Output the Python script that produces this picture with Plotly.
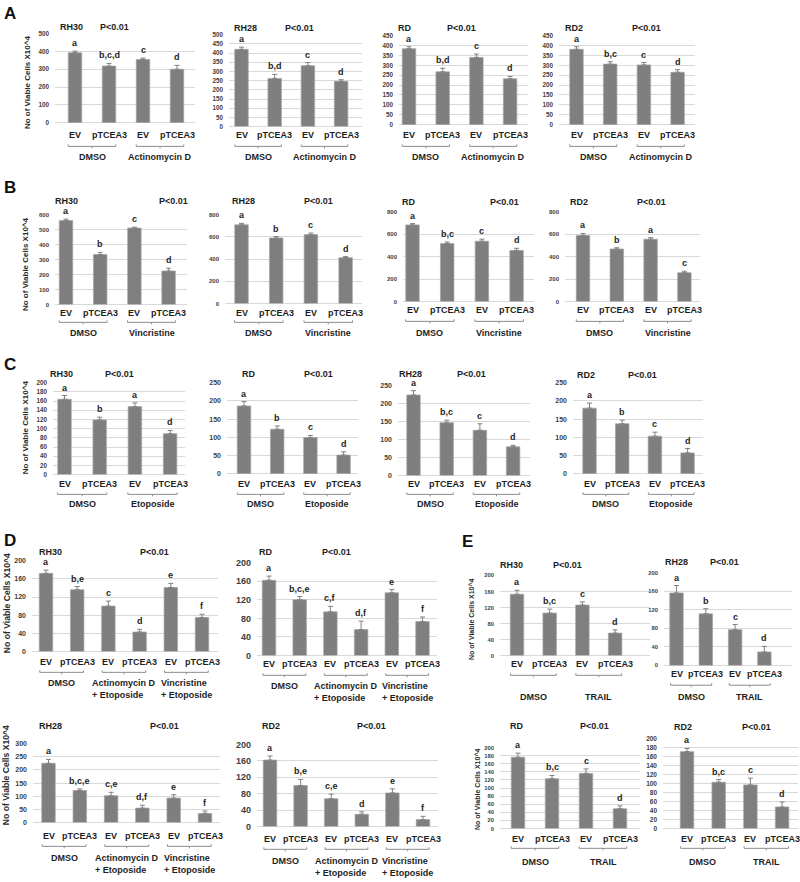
import plotly.graph_objects as go

W, H = 800, 882
FONT = "Liberation Sans, Arial, sans-serif"
BAR = "#7f7f7f"
EDGE = "#a5a5a5"
ERR = "#808080"
GRID = "#d9d9d9"
TICK = "#404040"
TXT = "#1e1e1e"

# ---------------- data ----------------
cat4 = ["EV", "pTCEA3", "EV", "pTCEA3"]
cat6 = ["EV", "pTCEA3", "EV", "pTCEA3", "EV", "pTCEA3"]
grp_A = ["DMSO", "Actinomycin D"]
grp_B = ["DMSO", "Vincristine"]
grp_C = ["DMSO", "Etoposide"]
grp_D = ["DMSO", "Actinomycin D<br>+ Etoposide", "Vincristine<br>+ Etoposide"]
grp_E = ["DMSO", "TRAIL"]
ytitle = "No of Viable Cells X10^4"
pval = "P<0.01"

# Panel A (Actinomycin D)
A_RH30_mean = [393, 318, 355, 300]
A_RH30_err = [9, 15, 8, 22]
A_RH30_sig = ["a", "b,c,d", "c", "d"]
A_RH28_mean = [420, 262, 331, 246]
A_RH28_err = [12, 22, 17, 9]
A_RH28_sig = ["a", "b,d", "c", "d"]
A_RD_mean = [384, 267, 340, 232]
A_RD_err = [10, 18, 17, 12]
A_RD_sig = ["a", "b,d", "c", "d"]
A_RD2_mean = [381, 306, 302, 265]
A_RD2_err = [13, 12, 12, 13]
A_RD2_sig = ["a", "b,c", "c", "d"]

# Panel B (Vincristine)
B_RH30_mean = [560, 334, 510, 224]
B_RH30_err = [10, 14, 6, 18]
B_RH30_sig = ["a", "b", "c", "d"]
B_RH28_mean = [708, 590, 620, 413]
B_RH28_err = [13, 13, 14, 9]
B_RH28_sig = ["a", "b", "c", "d"]
B_RD_mean = [682, 517, 537, 455]
B_RD_err = [11, 13, 18, 19]
B_RD_sig = ["a", "b,c", "c", "d"]
B_RD2_mean = [588, 468, 555, 257]
B_RD2_err = [18, 11, 14, 13]
B_RD2_sig = ["a", "b", "a", "c"]

# Panel C (Etoposide)
C_RH30_mean = [164, 119, 148, 89]
C_RH30_err = [8, 6, 8, 7]
C_RH30_sig = ["a", "b", "a", "d"]
C_RD_mean = [186, 122, 99, 51]
C_RD_err = [12, 9, 6, 9]
C_RD_sig = ["a", "b", "c", "d"]
C_RH28_mean = [224, 147, 126, 80]
C_RH28_err = [12, 7, 18, 4]
C_RH28_sig = ["a", "b,c", "c", "d"]
C_RD2_mean = [180, 137, 103, 57]
C_RD2_err = [14, 10, 11, 12]
C_RD2_sig = ["a", "b", "c", "d"]

# Panel D (combinations)
D_RH30_mean = [172, 136, 100, 43, 141, 75]
D_RH30_err = [7, 7, 11, 6, 9, 7]
D_RH30_sig = ["a", "b,e", "c", "d", "e", "f"]
D_RD_mean = [162, 120, 94, 56, 135, 73]
D_RD_err = [9, 7, 12, 18, 7, 10]
D_RD_sig = ["a", "b,c,e", "c,f", "d,f", "e", "f"]
D_RH28_mean = [225, 122, 102, 55, 93, 35]
D_RH28_err = [15, 6, 13, 11, 13, 9]
D_RH28_sig = ["a", "b,c,e", "c,e", "d,f", "e", "f"]
D_RD2_mean = [162, 100, 68, 30, 82, 17]
D_RD2_err = [10, 15, 11, 6, 10, 8]
D_RD2_sig = ["a", "b,e", "c,e", "d", "e", "f"]

# Panel E (TRAIL)
E_RH30_mean = [153, 106, 126, 56]
E_RH30_err = [10, 10, 8, 8]
E_RH30_sig = ["a", "b,c", "c", "d"]
E_RH28_mean = [156, 111, 77, 29]
E_RH28_err = [16, 11, 11, 12]
E_RH28_sig = ["a", "b", "c", "d"]
E_RD_mean = [176, 123, 136, 49]
E_RD_err = [10, 8, 11, 7]
E_RD_sig = ["a", "b,c", "c", "d"]
E_RD2_mean = [171, 103, 97, 48]
E_RD2_err = [7, 6, 15, 11]
E_RD2_sig = ["a", "b,c", "c", "d"]

# ---------------- layout specs (pixel geometry) ----------------
def P(title, mean, err, sig, cats, groups, dom, c0, s, yt, yb, ymax, dtick,
      tx, ty, px, ly, by, gy, tfs=6.3, xfs=9, lfs=9):
    return dict(title=title, mean=mean, err=err, sig=sig, cats=cats, groups=groups,
                dom=dom, c0=c0, s=s, yt=yt, yb=yb, ymax=ymax, dtick=dtick,
                tx=tx, ty=ty, px=px, ly=ly, by=by, gy=gy, tfs=tfs, xfs=xfs, lfs=lfs)

panels = [
    P("RH30", A_RH30_mean, A_RH30_err, A_RH30_sig, cat4, grp_A, (55, 195), 75, 34, 29, 119, 500, 100, 58, 22, 98, 132, 143, 155),
    P("RH28", A_RH28_mean, A_RH28_err, A_RH28_sig, cat4, grp_A, (229, 362), 241.5, 33.2, 30, 123, 500, 50, 232, 23, 283, 132, 143, 155),
    P("RD", A_RD_mean, A_RD_err, A_RD_sig, cat4, grp_A, (399, 528), 409, 33.7, 31, 121, 450, 50, 396, 23, 445, 132, 143, 155),
    P("RD2", A_RD2_mean, A_RD2_err, A_RD2_sig, cat4, grp_A, (559, 695), 576.5, 33.7, 31, 121, 450, 50, 563, 23, 630, 132, 143, 155),

    P("RH30", B_RH30_mean, B_RH30_err, B_RH30_sig, cat4, grp_B, (55, 187), 66, 34.2, 212, 303, 600, 100, 53, 198, 157, 313, 321, 333, tfs=6),
    P("RH28", B_RH28_mean, B_RH28_err, B_RH28_sig, cat4, grp_B, (225, 362), 241.5, 34.7, 212, 302, 800, 200, 230, 198, 302, 313, 321, 333, tfs=6),
    P("RD", B_RD_mean, B_RD_err, B_RD_sig, cat4, grp_B, (403, 534), 412.5, 34.7, 209, 300, 800, 200, 400, 199, 488, 310, 320, 333, tfs=6),
    P("RD2", B_RD2_mean, B_RD2_err, B_RD2_sig, cat4, grp_B, (565, 700), 583, 33.8, 209, 300, 800, 200, 568, 199, 635, 310, 320, 333, tfs=6),

    P("RH30", C_RH30_mean, C_RH30_err, C_RH30_sig, cat4, grp_C, (53, 185), 64.5, 35.2, 382, 475, 200, 20, 48, 373, 103, 485, 495, 506),
    P("RD", C_RD_mean, C_RD_err, C_RD_sig, cat4, grp_C, (227, 358), 244, 33.2, 382, 474, 250, 50, 240, 373, 302, 485, 495, 506, tfs=7),
    P("RH28", C_RH28_mean, C_RH28_err, C_RH28_sig, cat4, grp_C, (398, 530), 413.5, 33.2, 385, 476, 250, 50, 397, 373, 455, 485, 495, 506, tfs=7),
    P("RD2", C_RD2_mean, C_RD2_err, C_RD2_sig, cat4, grp_C, (573, 703), 589.5, 32.7, 382, 474, 250, 50, 575, 374, 626, 485, 495, 506, tfs=7),

    P("RH30", D_RH30_mean, D_RH30_err, D_RH30_sig, cat6, grp_D, (32, 218), 46, 31.2, 562, 654, 200, 40, 37, 553, 138, 666, 675, 687, tfs=7),
    P("RD", D_RD_mean, D_RD_err, D_RD_sig, cat6, grp_D, (257, 437), 269, 30.7, 564, 658, 200, 40, 257, 553, 320, 668, 678, 690, tfs=9),
    P("RH30", E_RH30_mean, E_RH30_err, E_RH30_sig, cat4, grp_E, (500, 650), 517, 32.7, 577, 658, 200, 40, 498, 566, 551, 668, 678, 701, tfs=5.8),
    P("RH28", E_RH28_mean, E_RH28_err, E_RH28_sig, cat4, grp_E, (664, 792), 676.5, 29.3, 574, 668, 200, 40, 663, 563, 708, 678, 688, 701, tfs=5.8),

    P("RH28", D_RH28_mean, D_RH28_err, D_RH28_sig, cat6, grp_D, (33, 220), 48.5, 31.3, 747, 827, 300, 50, 37, 729, 148, 842, 851, 864, tfs=7),
    P("RD2", D_RD2_mean, D_RD2_err, D_RD2_sig, cat6, grp_D, (257, 438), 270, 30.6, 748, 831, 200, 40, 260, 729, 355, 845, 854, 867, tfs=9),
    P("RD", E_RD_mean, E_RD_err, E_RD_sig, cat4, grp_E, (500, 640), 518, 34, 751, 833, 200, 20, 508, 729, 578, 845, 853, 868, tfs=5.8),
    P("RD2", E_RD2_mean, E_RD2_err, E_RD2_sig, cat4, grp_E, (663, 798), 687, 31.7, 742, 833, 200, 20, 672, 730, 740, 845, 853, 868, tfs=6.5),
]

ytitles = [(27, 78, 8), (25, 262, 8), (25, 427, 8), (7, 605, 8.6), (6, 779, 8.6), (472, 622, 7), (477, 793, 7)]
letters = [("A", 10, 9), ("B", 10, 185), ("C", 10, 364), ("D", 10, 542), ("E", 467, 543)]


def yp(y):
    return 1 - y / H


def f(size, color=TXT):
    return dict(family=FONT, size=size, color=color, weight="bold")


fig = go.Figure()
shapes, annots = [], []
lay = {}

for i, p in enumerate(panels, 1):
    sx = "" if i == 1 else str(i)
    xr, yr = "x" + sx, "y" + sx
    n = len(p["mean"])
    xs = list(range(n))
    gx0, gx1 = p["dom"]
    r0 = (gx0 - p["c0"]) / p["s"]
    r1 = (gx1 - p["c0"]) / p["s"]
    fig.add_trace(go.Bar(
        x=xs, y=p["mean"], width=13.5 / p["s"], xaxis=xr, yaxis=yr,
        marker=dict(color=BAR, line=dict(color=EDGE, width=0.7)),
        error_y=dict(type="data", array=p["err"], arrayminus=[0] * n, symmetric=False,
                     color=ERR, thickness=1, width=2.5),
        showlegend=False, hoverinfo="skip"))
    lay["xaxis" + sx] = dict(domain=[gx0 / W, gx1 / W], range=[r0, r1], anchor=yr,
                             showticklabels=False, showgrid=False, zeroline=False,
                             showline=False, ticks="", fixedrange=True)
    lay["yaxis" + sx] = dict(domain=[yp(p["yb"]), yp(p["yt"])], range=[0, p["ymax"]],
                             dtick=p["dtick"], tick0=0, anchor=xr, showgrid=True,
                             gridcolor=GRID, gridwidth=1, zeroline=True,
                             zerolinecolor=GRID, zerolinewidth=1, showline=False,
                             ticks="", tickfont=f(p["tfs"], TICK), ticklabelstandoff=5,
                             fixedrange=True)
    for j in xs:
        annots.append(dict(x=j, y=p["mean"][j] + p["err"][j], xref=xr, yref=yr,
                           text=p["sig"][j], showarrow=False, yanchor="bottom",
                           yshift=1, font=f(p["lfs"])))
        annots.append(dict(x=j, y=yp(p["ly"] - 1), xref=xr, yref="paper",
                           text=p["cats"][j], showarrow=False, yanchor="middle",
                           font=f(p["xfs"])))
    for k, g in enumerate(p["groups"]):
        i0 = 2 * k
        xl, xc, xrr = i0 - 0.2, i0 + 0.5, i0 + 1.2
        yb = yp(p["by"])
        yu = yp(p["by"] - 2)
        yd = yp(p["by"] + 2)
        shapes.append(dict(type="path", xref=xr, yref="paper",
                           path=f"M {xl},{yu} L {xl},{yb} L {xrr},{yb} L {xrr},{yu} M {xc},{yb} L {xc},{yd}",
                           line=dict(color="#8c8c8c", width=1)))
        annots.append(dict(x=xc, y=yp(p["gy"] - 8), xref=xr, yref="paper", text=g,
                           showarrow=False, yanchor="top", align="left",
                           font=f(9)))
    annots.append(dict(x=p["tx"] / W, y=yp(p["ty"]), xref="paper", yref="paper",
                       text=p["title"], showarrow=False, xanchor="left",
                       yanchor="middle", font=f(9)))
    annots.append(dict(x=p["px"] / W, y=yp(p["ty"]), xref="paper", yref="paper",
                       text=pval, showarrow=False, xanchor="left",
                       yanchor="middle", font=f(9)))

for (x, y, s) in ytitles:
    annots.append(dict(x=x / W, y=yp(y), xref="paper", yref="paper", text=ytitle,
                       textangle=-90, showarrow=False, xanchor="center",
                       yanchor="middle", font=f(s, "#2a2a2a")))
for (t, x, y) in letters:
    annots.append(dict(x=x / W, y=yp(y), xref="paper", yref="paper", text=t,
                       showarrow=False, xanchor="center", yanchor="middle",
                       font=f(17, "#111111")))

fig.update_layout(width=W, height=H, margin=dict(l=0, r=0, t=0, b=0),
                  paper_bgcolor="white", plot_bgcolor="white",
                  shapes=shapes, annotations=annots, bargap=0.6, **lay)
fig.write_html("out.html", config={"displayModeBar": False},
               post_script="document.body.style.margin='0px';")
